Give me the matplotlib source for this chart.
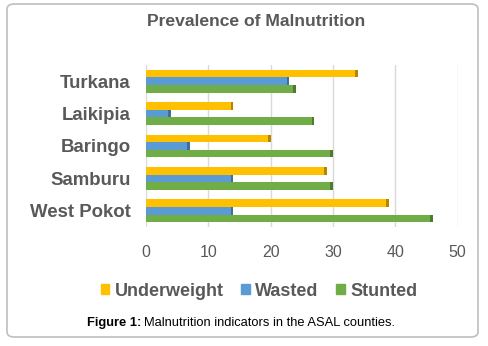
import matplotlib
matplotlib.use("Agg")
import matplotlib.pyplot as plt
import matplotlib.patches as patches
import numpy as np

plt.rcParams["font.family"] = ["Liberation Sans", "DejaVu Sans"]

counties = ["West Pokot", "Samburu", "Baringo", "Laikipia", "Turkana"]
underweight = [39, 29, 20, 14, 34]
wasted = [14, 14, 7, 4, 23]
stunted = [46, 30, 30, 27, 24]
xticks = [0, 10, 20, 30, 40, 50]

GRAY = "#595959"
C_UW = "#FFC000"
C_W = "#5B9BD5"
C_S = "#70AD47"

fig = plt.figure(figsize=(4.88, 3.46), dpi=100)

# outer rounded frame, behind everything
frame = patches.FancyBboxPatch(
    (7 / 488, 1 - 337 / 346), 471 / 488, 333 / 346,
    boxstyle="round,pad=0,rounding_size=0.015",
    transform=fig.transFigure, facecolor="white", edgecolor="#BFBFBF", linewidth=1.2,
    zorder=-5,
)
fig.patches.append(frame)

ax = fig.add_axes([146 / 488, 1 - 227 / 346, 311.5 / 488, 162 / 346])
ax.patch.set_alpha(0)

y = np.arange(len(counties))
h = 0.235
series = [(underweight, C_UW, "#B38600", h), (wasted, C_W, "#3F6E99", 0), (stunted, C_S, "#4E7A32", -h)]
for vals, col, dark, off in series:
    ax.barh(y + off, vals, height=h, color=col, zorder=3)
    # darker end cap for the 3D look
    ax.barh(y + off, [0.4] * len(vals), left=np.array(vals) - 0.4, height=h, color=dark, zorder=4)

ax.set_xlim(0, 50)
ax.set_ylim(-0.5, 4.5)
ax.set_xticks(xticks)
ax.set_yticks(y)
ax.set_yticklabels(counties, fontsize=13.4, fontweight="bold", color=GRAY)
ax.tick_params(axis="x", length=0, pad=13, labelsize=11.5, labelcolor=GRAY)
ax.tick_params(axis="y", length=0, pad=11)
ax.grid(axis="x", color="#D9D9D9", linewidth=1, zorder=0)
for s in ax.spines.values():
    s.set_visible(False)

fig.text(256 / 488, 1 - 21 / 346, "Prevalence of Malnutrition", ha="center", va="center",
         fontsize=12.6, fontweight="bold", color=GRAY)

handles = [patches.Patch(color=C_UW, label="Underweight"),
           patches.Patch(color=C_W, label="Wasted"),
           patches.Patch(color=C_S, label="Stunted")]
leg = fig.legend(handles=handles, loc="center", bbox_to_anchor=(259 / 488, 1 - 291 / 346), ncol=3,
                 frameon=False, handlelength=0.45, handleheight=0.45, handletextpad=0.3,
                 columnspacing=1.0, prop={"size": 13, "weight": "bold"})
for t in leg.get_texts():
    t.set_color(GRAY)

cap_y = 1 - 323 / 346
t1 = fig.text(87 / 488, cap_y, "Figure 1:", ha="left", va="center", fontsize=9.3, fontweight="bold", color="black")
r = fig.canvas.get_renderer()
bb = t1.get_window_extent(renderer=r)
fig.text((bb.x1 + 3) / 488, cap_y, "Malnutrition indicators in the ASAL counties.", ha="left", va="center",
         fontsize=9.3, color="black")

fig.savefig("out.png", dpi=100)
